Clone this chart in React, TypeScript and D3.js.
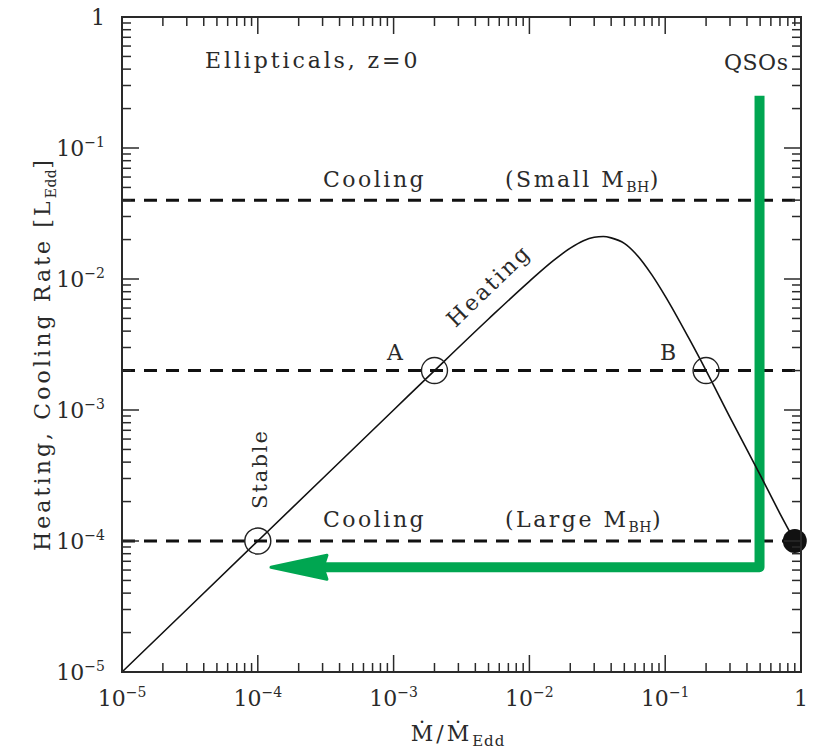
import React from "react";
import * as d3 from "d3";

// ---- data ----
const heatingX = [1e-5, 1e-4, 1e-3, 2e-3, 5e-3, 0.01, 0.015, 0.02, 0.025, 0.03, 0.035, 0.04, 0.05, 0.06, 0.08, 0.1, 0.15, 0.2, 0.3, 0.5, 0.7, 0.9];
const heatingY = [1e-5, 1e-4, 1e-3, 2e-3, 4.95e-3, 0.0096, 0.0138, 0.0172, 0.0196, 0.0208, 0.0211, 0.0206, 0.0187, 0.0158, 0.0107, 0.0074, 0.0035, 0.002, 0.00088, 0.00032, 0.000162, 0.0001];
const coolingLevels = [0.04, 0.002, 1e-4];
const openCircles = [
  { x: 1e-4, y: 1e-4 },
  { x: 2e-3, y: 2e-3 },
  { x: 0.2, y: 0.002 },
];
const filledCircle = { x: 0.9, y: 1e-4 };
const arrowPath = [
  { x: 0.495, y: 0.25 },
  { x: 0.495, y: 6.3e-5 },
  { x: 1.25e-4, y: 6.3e-5 },
];
const decades = [-5, -4, -3, -2, -1, 0];
const tickExp = ["−5", "−4", "−3", "−2", "−1", ""];

const W = 814;
const H = 749;
const L = 122, R = 801, T = 17, B = 672;
const FONT = "'DejaVu Serif', serif";
const INK = "#2a2a2a";

export default function App() {
  const x = d3.scaleLog().domain([1e-5, 1]).range([L, R]);
  const y = d3.scaleLog().domain([1e-5, 1]).range([B, T]);

  const line = d3
    .line<number>()
    .x((_, i) => x(heatingX[i]))
    .y((d) => y(d))
    .curve(d3.curveMonotoneX);

  const majors = decades.map((d) => Math.pow(10, d));
  const minors: number[] = [];
  decades.slice(0, -1).forEach((d) => {
    for (let m = 2; m <= 9; m++) minors.push(m * Math.pow(10, d));
  });

  const majLen = 17;
  const minLen = 9;

  const ax = arrowPath.map((p) => [x(p.x), y(p.y)]);
  const tipX = ax[2][0];
  const shaftY = ax[2][1];
  const headLen = 56;
  const headHalf = 12;

  return (
    <svg width={W} height={H} style={{ display: "block", position: "absolute", left: 0, top: 0 }} fontFamily={FONT}>
      <rect width={W} height={H} fill="#fff" />

      {/* cooling dashed lines */}
      {coolingLevels.map((c, i) => (
        <line key={i} x1={L} x2={R} y1={y(c)} y2={y(c)} stroke="#111" strokeWidth={3} strokeDasharray="13 9" />
      ))}

      {/* green arrow */}
      <polyline
        points={`${ax[0][0]},${ax[0][1]} ${ax[1][0]},${ax[1][1]} ${tipX + headLen - 4},${shaftY}`}
        fill="none"
        stroke="#00a651"
        strokeWidth={10}
        strokeLinejoin="round"
      />
      <path
        d={`M${tipX},${shaftY} L${tipX + headLen},${shaftY - headHalf} L${tipX + headLen - 4},${shaftY} L${tipX + headLen},${shaftY + headHalf} Z`}
        fill="#00a651"
        stroke="#00a651"
        strokeWidth={3}
        strokeLinejoin="round"
      />

      {/* heating curve */}
      <path d={line(heatingY) || ""} fill="none" stroke="#111" strokeWidth={1.6} />

      {/* circles */}
      {openCircles.map((c, i) => (
        <circle key={i} cx={x(c.x)} cy={y(c.y)} r={13} fill="none" stroke="#222" strokeWidth={1.4} />
      ))}
      <circle cx={x(filledCircle.x)} cy={y(filledCircle.y)} r={12} fill="#111" />

      {/* frame */}
      <rect x={L} y={T} width={R - L} height={B - T} fill="none" stroke={INK} strokeWidth={2} />

      {/* ticks */}
      <g stroke={INK} strokeWidth={1.5}>
        {majors.map((v, i) => (
          <g key={"M" + i}>
            <line x1={x(v)} x2={x(v)} y1={B} y2={B - majLen} />
            <line x1={x(v)} x2={x(v)} y1={T} y2={T + majLen} />
            <line x1={L} x2={L + majLen} y1={y(v)} y2={y(v)} />
            <line x1={R} x2={R - majLen} y1={y(v)} y2={y(v)} />
          </g>
        ))}
        {minors.map((v, i) => (
          <g key={"m" + i}>
            <line x1={x(v)} x2={x(v)} y1={B} y2={B - minLen} />
            <line x1={x(v)} x2={x(v)} y1={T} y2={T + minLen} />
            <line x1={L} x2={L + minLen} y1={y(v)} y2={y(v)} />
            <line x1={R} x2={R - minLen} y1={y(v)} y2={y(v)} />
          </g>
        ))}
      </g>

      {/* tick labels */}
      <g fill={INK} fontSize={22}>
        {majors.map((v, i) => (
          <text key={"xl" + i} x={x(v)} y={706} textAnchor="middle">
            {tickExp[i] ? "10" : "1"}
            {tickExp[i] && (
              <tspan fontSize={14} dy={-9}>
                {tickExp[i]}
              </tspan>
            )}
          </text>
        ))}
        {majors.map((v, i) => (
          <text key={"yl" + i} x={105} y={y(v) + 8} textAnchor="end">
            {tickExp[i] ? "10" : "1"}
            {tickExp[i] && (
              <tspan fontSize={14} dy={-9}>
                {tickExp[i]}
              </tspan>
            )}
          </text>
        ))}
      </g>

      {/* axis titles */}
      <text x={458} y={741} textAnchor="middle" fontSize={22} fill={INK} letterSpacing={3}>
        Ṁ/Ṁ<tspan fontSize={15} dy={5} letterSpacing={1}>Edd</tspan>
      </text>
      <text transform={`translate(50,354) rotate(-90)`} textAnchor="middle" fontSize={22} fill={INK} letterSpacing={3.1}>
        Heating, Cooling Rate [L
        <tspan fontSize={14} dy={6} letterSpacing={0.5}>Edd</tspan>
        <tspan dy={-6}>]</tspan>
      </text>

      {/* annotations */}
      <g fill={INK} fontSize={22} letterSpacing={2.5}>
        <text x={205} y={68} letterSpacing={2.9}>Ellipticals, z=0</text>
        <text x={724} y={70} letterSpacing={0.5}>QSOs</text>
        <text x={323} y={187}>Cooling</text>
        <text x={505} y={187}>
          (Small M<tspan fontSize={14} dy={5} letterSpacing={0.5}>BH</tspan>
          <tspan dy={-5}>)</tspan>
        </text>
        <text x={323} y={527}>Cooling</text>
        <text x={505} y={527}>
          (Large M<tspan fontSize={14} dy={5} letterSpacing={0.5}>BH</tspan>
          <tspan dy={-5}>)</tspan>
        </text>
        <text x={395} y={360} textAnchor="middle" letterSpacing={0}>A</text>
        <text x={668} y={360} textAnchor="middle" letterSpacing={0}>B</text>
        <text transform="translate(494,291) rotate(-44)" textAnchor="middle">Heating</text>
        <text transform="translate(267,469) rotate(-90)" textAnchor="middle" fontSize={21} letterSpacing={2}>Stable</text>
      </g>
    </svg>
  );
}
